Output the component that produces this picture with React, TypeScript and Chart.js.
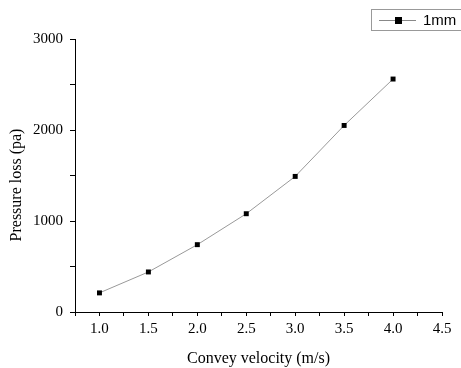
import React, { useEffect, useRef } from "react";
import { Chart, registerables } from "chart.js";

Chart.register(...registerables);

const velocities = [1.0, 1.5, 2.0, 2.5, 3.0, 3.5, 4.0];
const pressureLoss = [210, 440, 740, 1080, 1490, 2050, 2560];
const seriesLabel = "1mm";
const xTitle = "Convey velocity (m/s)";
const yTitle = "Pressure loss (pa)";

const serif = "'Liberation Serif', 'Times New Roman', serif";

const legendPlugin = {
  id: "boxLegend",
  afterDraw(chart: any) {
    const ctx = chart.ctx;
    ctx.save();
    ctx.strokeStyle = "#999";
    ctx.lineWidth = 1;
    ctx.strokeRect(371.5, 9.5, 100, 21);
    ctx.strokeStyle = "#888";
    ctx.beginPath();
    ctx.moveTo(379, 20.5);
    ctx.lineTo(416, 20.5);
    ctx.stroke();
    ctx.fillStyle = "#000";
    ctx.fillRect(395, 17, 7, 7);
    ctx.font = "15px 'Liberation Sans', Arial, sans-serif";
    ctx.textBaseline = "middle";
    ctx.fillText(chart.data.datasets[0].label, 423, 21);
    // y-axis title
    ctx.translate(17, 185);
    ctx.rotate(-Math.PI / 2);
    ctx.font = "16px " + serif;
    ctx.textAlign = "center";
    ctx.fillText(yTitle, 0, 0);
    ctx.restore();
  },
};

export default function App() {
  const ref = useRef<HTMLCanvasElement>(null);
  useEffect(() => {
    document.body.style.margin = "0";
    const chart = new Chart(ref.current!, {
      type: "line",
      data: {
        datasets: [
          {
            label: seriesLabel,
            data: velocities.map((v, i) => ({ x: v, y: pressureLoss[i] })),
            borderColor: "#999",
            borderWidth: 1,
            pointStyle: "rect",
            pointRadius: 3.5,
            pointBackgroundColor: "#000",
            pointBorderColor: "#000",
            pointBorderWidth: 0,
            tension: 0,
          },
        ],
      },
      options: {
        animation: false,
        responsive: false,
        layout: { padding: { top: 39, right: 19, left: 0, bottom: 0 } },
        plugins: { legend: { display: false }, tooltip: { enabled: false } },
        scales: {
          x: {
            type: "linear",
            min: 0.75,
            max: 4.5,
            afterFit: (s: any) => {
              s.height = 56;
            },
            ticks: {
              stepSize: 0.25,
              autoSkip: false,
              maxRotation: 0,
              color: "#000",
              padding: 4,
              font: { family: serif, size: 15 },
              callback: (v: any) => {
                const n = Number(v);
                return Math.abs(n * 2 - Math.round(n * 2)) < 1e-6 ? n.toFixed(1) : "";
              },
            },
            grid: { drawOnChartArea: false, tickLength: 4, color: "#000", tickColor: "#000" },
            border: { color: "#000", width: 1 },
            title: {
              display: true,
              text: xTitle,
              color: "#000",
              font: { family: serif, size: 16 },
              padding: { top: 5, bottom: 0 },
            },
          },
          y: {
            min: 0,
            max: 3000,
            afterFit: (s: any) => {
              s.width = 75;
            },
            ticks: {
              stepSize: 500,
              color: "#000",
              padding: 7,
              font: { family: serif, size: 15 },
              callback: (v: any) => (Number(v) % 1000 === 0 ? String(v) : ""),
            },
            grid: { drawOnChartArea: false, tickLength: 5, color: "#000", tickColor: "#000" },
            border: { color: "#000", width: 1 },
            title: { display: false, text: yTitle },
          },
        },
      },
      plugins: [legendPlugin],
    } as any);
    return () => chart.destroy();
  }, []);
  return (
    <div style={{ width: 461, height: 368 }}>
      <canvas ref={ref} width={461} height={368} style={{ display: "block" }} />
    </div>
  );
}
